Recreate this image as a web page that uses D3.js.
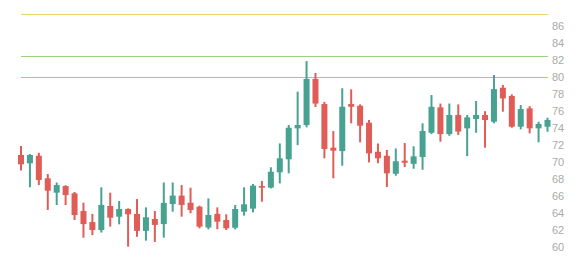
<!DOCTYPE html>
<html>
<head>
<meta charset="utf-8">
<script src="https://cdn.jsdelivr.net/npm/d3@7"></script>
<style>
  html, body { margin: 0; padding: 0; background: #fff; }
  svg { display: block; }
</style>
</head>
<body>
<svg id="chart" width="584" height="258"></svg>
<script>
const opens  = [70.84,69.86,70.75,68.09,66.40,67.18,66.32,64.24,62.94,62.00,64.83,63.57,64.48,63.89,61.90,63.30,62.70,65.06,66.05,65.22,64.75,62.30,63.90,63.18,62.27,64.16,64.52,67.18,66.99,68.80,70.33,73.98,74.37,79.80,76.84,71.70,71.30,76.84,76.64,74.64,71.22,70.75,68.63,70.17,69.80,70.60,73.46,76.45,73.30,75.55,73.98,75.08,75.55,74.76,78.76,77.79,74.17,76.33,73.98,74.17];
const highs  = [71.90,70.95,71.10,68.60,67.60,67.27,66.48,65.22,63.90,67.03,66.40,65.42,64.55,65.65,64.67,64.24,67.60,67.60,67.30,66.99,64.87,65.73,64.67,63.85,64.95,67.03,67.42,67.77,69.39,72.20,74.37,78.30,81.90,80.50,77.10,73.66,78.70,78.57,76.80,74.96,72.20,71.43,71.60,72.25,71.86,74.57,77.90,76.90,76.90,76.80,75.55,77.20,76.00,80.26,79.08,77.98,76.72,76.60,74.76,75.23];
const lows   = [69.00,67.03,67.30,64.36,64.95,64.95,63.18,61.10,61.40,61.70,62.40,62.67,60.04,61.20,60.75,60.60,61.10,64.16,63.57,63.97,62.20,62.08,62.10,62.00,62.08,63.70,64.08,65.34,66.90,67.50,68.68,72.00,74.10,76.50,70.45,68.09,69.58,74.57,72.33,69.97,69.86,67.07,68.40,69.42,69.22,69.10,73.30,72.40,73.10,73.20,70.70,73.46,71.70,74.57,75.94,74.05,73.86,73.39,72.33,73.58];
const closes = [69.74,70.84,67.90,66.63,67.30,66.12,63.77,62.70,62.00,64.95,63.45,64.48,63.85,61.90,63.50,62.60,65.20,66.05,64.95,64.36,62.40,63.77,62.98,62.20,64.48,65.03,67.22,66.99,68.87,70.45,74.05,74.37,79.80,76.90,71.54,71.35,76.52,76.52,74.29,71.03,70.45,68.68,70.10,69.93,70.68,73.66,76.52,73.30,75.55,73.60,75.27,75.55,74.96,78.60,77.50,74.17,76.25,73.98,74.49,74.96];
const markLines = [87.5, 82.5, 80];
const markColors = ["#e8d66c", "#98d47e", "#98d47e"];
const yTicks = [60,62,64,66,68,70,72,74,76,78,80,82,84,86];

const svg = d3.select("#chart");
const idx = d3.range(opens.length);
const x = d3.scalePoint().domain(idx).range([21, 547.5]);
const y = d3.scaleLinear().domain([60, 86]).range([247, 26.3]);
const UP = "#47a292", DOWN = "#e05d57";

// mark lines
svg.append("g").selectAll("line").data(markLines).join("line")
  .attr("x1", 21).attr("x2", 548)
  .attr("y1", d => Math.round(y(d)) + 0.5).attr("y2", d => Math.round(y(d)) + 0.5)
  .attr("stroke", (d, i) => markColors[i]).attr("stroke-width", 1.2);

// axis
const axis = d3.axisRight(y).tickValues(yTicks).tickSize(0).tickPadding(0).tickFormat(d3.format("d"));
const ag = svg.append("g").attr("transform", "translate(552,0)").call(axis);
ag.select(".domain").remove();
ag.selectAll("text").attr("fill", "#aaaaaa").attr("font-size", "11px")
  .attr("font-family", "'Liberation Sans', Arial, sans-serif");

// candles
const g = svg.append("g");
const c = g.selectAll("g.c").data(idx).join("g").attr("class", "c");
c.append("line")
  .attr("x1", i => x(i)).attr("x2", i => x(i))
  .attr("y1", i => y(highs[i])).attr("y2", i => y(lows[i]))
  .attr("stroke", i => closes[i] >= opens[i] ? UP : DOWN)
  .attr("stroke-width", 2);
c.append("rect")
  .attr("x", i => x(i) - 3).attr("width", 6)
  .attr("y", i => y(Math.max(opens[i], closes[i])))
  .attr("height", i => Math.max(1.5, Math.abs(y(opens[i]) - y(closes[i]))))
  .attr("fill", i => closes[i] >= opens[i] ? UP : DOWN);
</script>
</body>
</html>
